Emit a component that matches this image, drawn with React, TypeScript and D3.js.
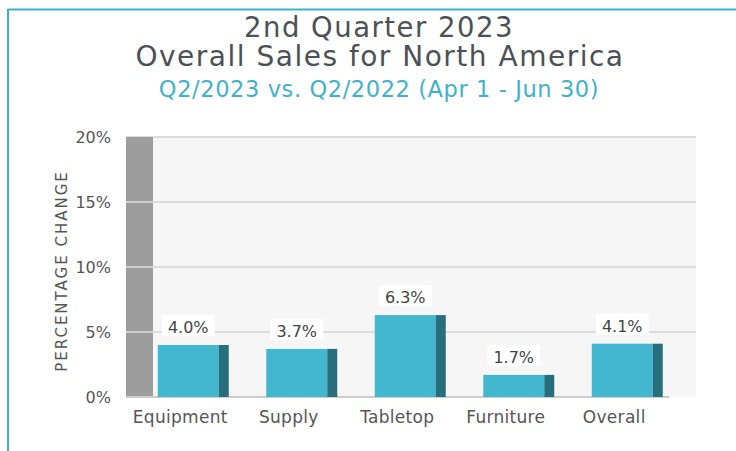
import React from 'react';
import * as d3 from 'd3';

const categories = ['Equipment', 'Supply', 'Tabletop', 'Furniture', 'Overall'];
const values = [4.0, 3.7, 6.3, 1.7, 4.1];
const yTicks = [0, 5, 10, 15, 20];

const W = 736;
const H = 451;
const FONT = '"DejaVu Sans", sans-serif';
const TEAL = '#3fb2c9';

const App = () => {
  const plot = { left: 126, right: 696, top: 137, bottom: 397 };
  const wallW = 27;

  const y = d3.scaleLinear().domain([0, 20]).range([plot.bottom, plot.top]);
  const x = d3.scaleBand().domain(categories).range([139, 681.5]).padding(0);

  const barW = 71;
  const sideW = 10;

  return (
    <svg width={W} height={H} style={{ position: 'absolute', left: 0, top: 0, background: '#fff' }}>
      {/* frame */}
      <line x1={8} x2={W} y1={9.5} y2={9.5} stroke={TEAL} strokeWidth={2} />
      <line x1={8} x2={8} y1={9} y2={H} stroke={TEAL} strokeWidth={2} />

      {/* titles */}
      <text x={379} y={37} textAnchor="middle" fontFamily={FONT} fontSize={27.5} letterSpacing={1.5} fill="#4b5156">
        2nd Quarter 2023
      </text>
      <text x={380} y={66} textAnchor="middle" fontFamily={FONT} fontSize={28} letterSpacing={1.5} fill="#4b5156">
        Overall Sales for North America
      </text>
      <text x={379} y={97} textAnchor="middle" fontFamily={FONT} fontSize={22.5} letterSpacing={0.6} fill={TEAL}>
        Q2/2023 vs. Q2/2022 (Apr 1 - Jun 30)
      </text>

      {/* plot background */}
      <rect x={plot.left} y={plot.top} width={plot.right - plot.left} height={plot.bottom - plot.top} fill="#f6f6f6" />

      {/* gridlines */}
      {yTicks.slice(1).map((t) => (
        <line key={t} x1={plot.left} x2={plot.right} y1={y(t)} y2={y(t)} stroke="#dcdcdc" strokeWidth={2} />
      ))}

      {/* left wall */}
      <rect x={plot.left} y={plot.top} width={wallW} height={plot.bottom - plot.top} fill="#9d9d9d" />
      {yTicks.slice(1, 4).map((t) => (
        <line key={t} x1={plot.left} x2={plot.left + wallW} y1={y(t)} y2={y(t)} stroke="#cfcfcf" strokeWidth={2} />
      ))}

      {/* floor */}
      <line x1={plot.left} x2={669} y1={plot.bottom} y2={plot.bottom} stroke="#cdcdcd" strokeWidth={2} />

      {/* y tick labels */}
      {yTicks.map((t) => (
        <text key={t} x={111} y={y(t) + 6} textAnchor="end" fontFamily={FONT} fontSize={16} fill="#555">
          {t}%
        </text>
      ))}

      {/* y axis title */}
      <text
        transform={`translate(67, 271) rotate(-90)`}
        textAnchor="middle"
        fontFamily={FONT}
        fontSize={15}
        letterSpacing={2}
        fill="#555"
      >
        PERCENTAGE CHANGE
      </text>

      {/* bars */}
      {categories.map((c, i) => {
        const cx = (x(c) as number) + x.bandwidth() / 2;
        const x0 = cx - barW / 2;
        const top = y(values[i]);
        const frontW = barW - sideW;
        const labelX = x0 + frontW / 2;
        const labelText = `${values[i].toFixed(1)}%`;
        return (
          <g key={c}>
            <rect x={x0} y={top} width={frontW} height={plot.bottom - top} fill="#43b6d0" />
            <rect x={x0 + frontW} y={top} width={sideW} height={plot.bottom - top} fill="#286f7d" />
            <rect x={labelX - 26.5} y={top - 30} width={53} height={21} fill="#fff" />
            <text x={labelX} y={top - 12} textAnchor="middle" fontFamily={FONT} fontSize={16} fill="#444">
              {labelText}
            </text>
            <text x={cx - 13} y={423} textAnchor="middle" fontFamily={FONT} fontSize={17} letterSpacing={0.3} fill="#555">
              {c}
            </text>
          </g>
        );
      })}
    </svg>
  );
};

export default App;
